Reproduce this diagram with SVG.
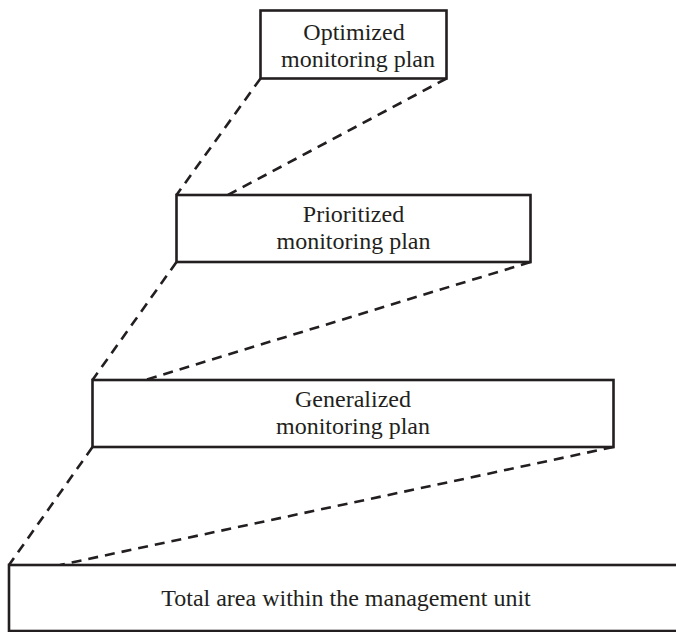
<svg xmlns="http://www.w3.org/2000/svg" width="676" height="632" viewBox="0 0 676 632">
  <style>
    .box { fill: #ffffff; stroke: #231f20; stroke-width: 2.6; }
    .lbl { font-family: "Liberation Serif", "Times New Roman", serif; font-size: 24px; fill: #231f20; text-anchor: middle; }
    .dash { stroke: #231f20; stroke-width: 2.6; stroke-dasharray: 10 7; fill: none; }
  </style>
  <rect width="676" height="632" fill="#ffffff"/>

  <!-- dashed projection lines between the levels -->
  <g id="connectors">
    <line class="dash" x1="260.5" y1="78.5" x2="176.5" y2="195"/>
    <line class="dash" x1="446.5" y1="78.5" x2="228" y2="195"/>
    <line class="dash" x1="176.5" y1="262" x2="92.5" y2="380"/>
    <line class="dash" x1="530.5" y1="262" x2="145" y2="380"/>
    <line class="dash" x1="92.5" y1="447" x2="9" y2="565"/>
    <line class="dash" x1="613.5" y1="447" x2="60" y2="565"/>
  </g>

  <g id="optimized">
    <rect class="box" x="260.5" y="10.5" width="186" height="68"/>
    <text class="lbl" x="354" y="40">Optimized</text>
    <text class="lbl" x="358" y="67">monitoring plan</text>
  </g>

  <g id="prioritized">
    <rect class="box" x="176.5" y="195" width="354" height="67"/>
    <text class="lbl" x="353.5" y="222">Prioritized</text>
    <text class="lbl" x="353.5" y="249">monitoring plan</text>
  </g>

  <g id="generalized">
    <rect class="box" x="92.5" y="380" width="521" height="67"/>
    <text class="lbl" x="353" y="407">Generalized</text>
    <text class="lbl" x="353" y="434">monitoring plan</text>
  </g>

  <g id="total">
    <rect class="box" x="9" y="565" width="680" height="66"/>
    <text class="lbl" x="346" y="606">Total area within the management unit</text>
  </g>
</svg>
